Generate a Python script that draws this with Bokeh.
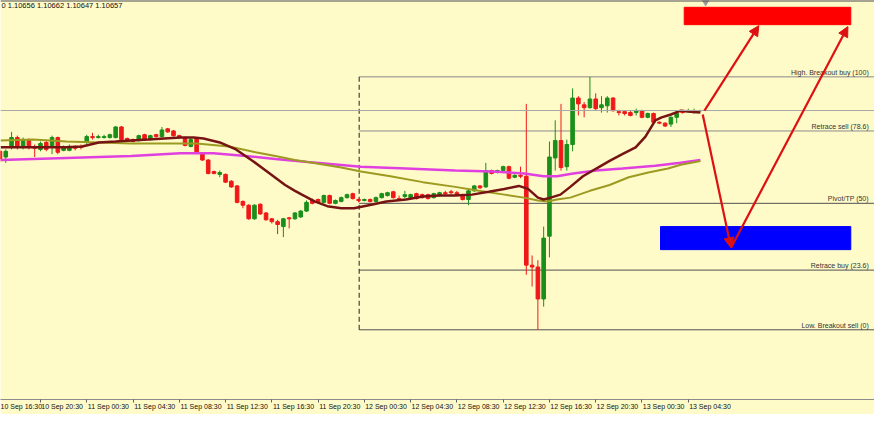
from bokeh.plotting import figure
from bokeh.models import (Range1d, FixedTicker, Span, Label, Arrow, NormalHead,
                          ColumnDataSource, LinearAxis)
from bokeh.core.properties import value
from bokeh.embed import file_html
from bokeh.resources import INLINE

# ---------------- data (EURUSD M30) ----------------
bar_index = list(range(1, 123))
open_ = [1.10399, 1.10363, 1.10424, 1.10486, 1.10424, 1.10467, 1.10424, 1.10411, 1.10455, 1.10424,
         1.10486, 1.10405, 1.10405, 1.10430, 1.10430, 1.10455, 1.10492, 1.10486, 1.10486, 1.10486,
         1.10486, 1.10553, 1.10480, 1.10473, 1.10467, 1.10504, 1.10473, 1.10504, 1.10492, 1.10541,
         1.10528, 1.10498, 1.10486, 1.10430, 1.10480, 1.10387, 1.10344, 1.10271, 1.10253, 1.10253,
         1.10210, 1.10180, 1.10082, 1.10058, 1.09972, 1.10064, 1.10009, 1.09972, 1.09954, 1.09923,
         1.09978, 1.09972, 1.09984, 1.10021, 1.10088, 1.10094, 1.10076, 1.10119, 1.10070, 1.10082,
         1.10106, 1.10131, 1.10094, 1.10088, 1.10094, 1.10082, 1.10106, 1.10119, 1.10143, 1.10100,
         1.10113, 1.10106, 1.10131, 1.10125, 1.10125, 1.10106, 1.10119, 1.10137, 1.10143, 1.10137,
         1.10125, 1.10094, 1.10149, 1.10180, 1.10174, 1.10277, 1.10265, 1.10277, 1.10302, 1.10235,
         1.10247, 1.10241, 1.09679, 1.09667, 1.09465, 1.09862, 1.10357, 1.10467, 1.10302, 1.10442,
         1.10736, 1.10693, 1.10675, 1.10730, 1.10675, 1.10687, 1.10736, 1.10650, 1.10650, 1.10644,
         1.10644, 1.10656, 1.10614, 1.10638, 1.10583, 1.10577, 1.10571, 1.10614, 1.10656, 1.10650,
         1.10644, 1.10656]
high = [1.10411, 1.10411, 1.10522, 1.10498, 1.10486, 1.10480, 1.10442, 1.10461, 1.10467, 1.10498,
        1.10492, 1.10436, 1.10442, 1.10436, 1.10442, 1.10504, 1.10516, 1.10504, 1.10504, 1.10510,
        1.10559, 1.10559, 1.10486, 1.10480, 1.10504, 1.10510, 1.10504, 1.10510, 1.10553, 1.10547,
        1.10534, 1.10504, 1.10492, 1.10486, 1.10486, 1.10393, 1.10350, 1.10277, 1.10277, 1.10259,
        1.10216, 1.10186, 1.10088, 1.10064, 1.10064, 1.10070, 1.10015, 1.09978, 1.09966, 1.09978,
        1.09984, 1.10015, 1.10027, 1.10088, 1.10100, 1.10100, 1.10125, 1.10125, 1.10094, 1.10113,
        1.10131, 1.10137, 1.10100, 1.10100, 1.10100, 1.10113, 1.10137, 1.10143, 1.10149, 1.10119,
        1.10149, 1.10131, 1.10137, 1.10131, 1.10131, 1.10137, 1.10143, 1.10149, 1.10155, 1.10149,
        1.10131, 1.10161, 1.10186, 1.10186, 1.10326, 1.10283, 1.10283, 1.10308, 1.10308, 1.10253,
        1.10302, 1.10699, 1.09740, 1.09710, 1.09923, 1.10461, 1.10595, 1.10699, 1.10473, 1.10797,
        1.10748, 1.10711, 1.10870, 1.10766, 1.10748, 1.10748, 1.10742, 1.10662, 1.10656, 1.10656,
        1.10669, 1.10662, 1.10644, 1.10644, 1.10589, 1.10583, 1.10620, 1.10650, 1.10662, 1.10669,
        1.10669, 1.10662]
low = [1.10332, 1.10326, 1.10411, 1.10411, 1.10411, 1.10411, 1.10363, 1.10399, 1.10399, 1.10381,
       1.10381, 1.10399, 1.10399, 1.10405, 1.10411, 1.10442, 1.10473, 1.10480, 1.10480, 1.10480,
       1.10480, 1.10467, 1.10461, 1.10455, 1.10461, 1.10467, 1.10467, 1.10486, 1.10486, 1.10516,
       1.10492, 1.10480, 1.10430, 1.10424, 1.10381, 1.10338, 1.10253, 1.10253, 1.10235, 1.10198,
       1.10168, 1.10070, 1.10039, 1.09966, 1.09966, 1.09997, 1.09960, 1.09942, 1.09875, 1.09856,
       1.09911, 1.09966, 1.09978, 1.10015, 1.10064, 1.10070, 1.10070, 1.10064, 1.10064, 1.10076,
       1.10100, 1.10094, 1.10076, 1.10082, 1.10076, 1.10076, 1.10100, 1.10113, 1.10100, 1.10088,
       1.10100, 1.10100, 1.10094, 1.10100, 1.10094, 1.10100, 1.10113, 1.10125, 1.10125, 1.10119,
       1.10088, 1.10058, 1.10143, 1.10161, 1.10168, 1.10253, 1.10259, 1.10271, 1.10222, 1.10229,
       1.10229, 1.09618, 1.09544, 1.09270, 1.09416, 1.09728, 1.10277, 1.10277, 1.10277, 1.10399,
       1.10626, 1.10614, 1.10669, 1.10656, 1.10644, 1.10644, 1.10650, 1.10626, 1.10626, 1.10620,
       1.10626, 1.10608, 1.10608, 1.10577, 1.10571, 1.10553, 1.10553, 1.10577, 1.10638, 1.10644,
       1.10638, 1.10647]
close = [1.10350, 1.10399, 1.10486, 1.10424, 1.10473, 1.10424, 1.10418, 1.10448, 1.10411, 1.10486,
         1.10393, 1.10424, 1.10430, 1.10418, 1.10424, 1.10492, 1.10486, 1.10492, 1.10492, 1.10504,
         1.10553, 1.10473, 1.10467, 1.10461, 1.10498, 1.10473, 1.10498, 1.10492, 1.10534, 1.10522,
         1.10498, 1.10486, 1.10436, 1.10473, 1.10387, 1.10344, 1.10259, 1.10259, 1.10265, 1.10204,
         1.10174, 1.10076, 1.10058, 1.09972, 1.10058, 1.10003, 1.09966, 1.09954, 1.09936, 1.09972,
         1.09972, 1.10009, 1.10021, 1.10076, 1.10070, 1.10076, 1.10119, 1.10070, 1.10088, 1.10106,
         1.10125, 1.10100, 1.10088, 1.10094, 1.10082, 1.10106, 1.10131, 1.10137, 1.10106, 1.10094,
         1.10125, 1.10125, 1.10100, 1.10106, 1.10100, 1.10131, 1.10137, 1.10131, 1.10137, 1.10125,
         1.10094, 1.10149, 1.10180, 1.10168, 1.10277, 1.10259, 1.10277, 1.10302, 1.10229, 1.10247,
         1.10241, 1.09679, 1.09667, 1.09465, 1.09850, 1.10363, 1.10467, 1.10296, 1.10442, 1.10736,
         1.10699, 1.10675, 1.10730, 1.10669, 1.10693, 1.10736, 1.10656, 1.10644, 1.10638, 1.10626,
         1.10656, 1.10614, 1.10638, 1.10583, 1.10577, 1.10559, 1.10614, 1.10638, 1.10644, 1.10656,
         1.10656, 1.10657]

# moving averages (sampled along each line)
ma_fast_x = [1.1, 6.7, 12.5, 15.2, 18.1, 21.0, 23.7, 26.6, 29.4, 32.2, 34.5, 36.2, 39.0, 41.8, 44.7,
             47.4, 50.3, 52.0, 53.2, 55.4, 57.6, 60.0, 62.2, 63.9, 65.6, 67.8, 71.2, 74.1, 77.0, 79.7,
             82.6, 85.5, 88.2, 90.7, 92.3, 94.0, 95.0, 96.2, 97.9, 99.6, 101.8, 104.1, 106.4, 108.6,
             110.9, 112.6, 114.3, 115.4, 117.0, 118.7, 120.4, 122.1]
ma_fast_y = [1.10424, 1.10424, 1.10424, 1.10430, 1.10455, 1.10461, 1.10467, 1.10473, 1.10480, 1.10486,
             1.10486, 1.10480, 1.10455, 1.10411, 1.10338, 1.10265, 1.10186, 1.10149, 1.10125, 1.10082,
             1.10052, 1.10039, 1.10039, 1.10052, 1.10064, 1.10082, 1.10094, 1.10113, 1.10119, 1.10119,
             1.10125, 1.10143, 1.10161, 1.10180, 1.10161, 1.10106, 1.10094, 1.10106, 1.10125, 1.10174,
             1.10241, 1.10290, 1.10338, 1.10381, 1.10424, 1.10492, 1.10595, 1.10614, 1.10632, 1.10656,
             1.10650, 1.10644]
ma_mid_x = [1.1, 6.7, 12.5, 18.1, 23.7, 29.4, 35.0, 40.6, 45.2, 48.6, 52.0, 54.2, 60.0, 63.4, 68.5,
            74.1, 79.7, 83.8, 88.2, 91.6, 94.0, 95.7, 97.3, 99.6, 103.0, 106.4, 109.7, 113.1, 116.5,
            118.7, 122.1]
ma_mid_y = [1.10467, 1.10473, 1.10461, 1.10455, 1.10449, 1.10449, 1.10449, 1.10430, 1.10393, 1.10369,
            1.10344, 1.10332, 1.10296, 1.10271, 1.10241, 1.10204, 1.10174, 1.10149, 1.10125, 1.10106,
            1.10088, 1.10082, 1.10094, 1.10106, 1.10149, 1.10186, 1.10235, 1.10265, 1.10290, 1.10314,
            1.10338]
ma_slow_x = [1.1, 12.5, 23.7, 32.2, 37.9, 43.5, 48.6, 54.2, 63.4, 71.2, 79.7, 86.0, 91.6, 95.0, 97.3,
             100.1, 104.1, 108.6, 114.3, 118.7, 122.1]
ma_slow_y = [1.10344, 1.10357, 1.10369, 1.10387, 1.10387, 1.10369, 1.10351, 1.10332, 1.10302, 1.10290,
             1.10277, 1.10271, 1.10259, 1.10241, 1.10241, 1.10259, 1.10277, 1.10290, 1.10308, 1.10326,
             1.10344]

# Fibonacci grid
fib_high = 1.1087
fib_low = 1.0927
fib_start = 63.1
fib_ratios = [100, 78.6, 50, 23.6, 0]
fib_names = ["High. Breakout buy (100)", "Retrace sell (78.6)", "Pivot/TP (50)",
             "Retrace buy (23.6)", "Low. Breakout sell (0)"]
fib_colors = ["#8a8a8a", "#8a8a8a", "#505050", "#505050", "#505050"]

# target zones and projected path
zone_left = [119.3, 115.2]
zone_right = [148.1, 148.1]
zone_top = [1.11310, 1.09923]
zone_bottom = [1.11200, 1.09777]
zone_colors = ["#ff0000", "#0000ff"]
arrow_x0 = [122.8, 122.5, 127.4]
arrow_y0 = [1.10656, 1.10632, 1.09789]
arrow_x1 = [132.2, 127.4, 147.6]
arrow_y1 = [1.11194, 1.09789, 1.11188]

# x axis
tick_index = [0, 8, 16, 24, 32, 40, 48, 56, 64, 72, 80, 88, 96, 104, 112, 120]
tick_labels = ["10 Sep 16:30", "10 Sep 20:30", "11 Sep 00:30", "11 Sep 04:30", "11 Sep 08:30",
               "11 Sep 12:30", "11 Sep 16:30", "11 Sep 20:30", "12 Sep 00:30", "12 Sep 04:30",
               "12 Sep 08:30", "12 Sep 12:30", "12 Sep 16:30", "12 Sep 20:30", "13 Sep 00:30",
               "13 Sep 04:30"]
header_text = "0  1.10656 1.10662 1.10647 1.10657"
last_price = 1.10657

# ---------------- figure ----------------
BG = "#FFFBC8"
FONT = "Liberation Sans"
GREEN = "#1a8f1a"
RED = "#f01818"
Y0, Y1 = 1.08829, 1.11353
LABEL_SHIFT = 3.75   # labels start at their tick (terminal style) instead of being centred

p = figure(width=874, height=414, output_backend="svg", toolbar_location=None,
           x_range=Range1d(1.09, 152.2), y_range=Range1d(Y0, Y1),
           y_axis_location=None, min_border=0, min_border_bottom=15)
p.background_fill_color = BG
p.border_fill_color = BG
p.outline_line_color = None
p.grid.visible = False

# axis line + tick marks (no labels of its own)
ax = p.xaxis[0]
ax.ticker = FixedTicker(ticks=tick_index)
ax.major_label_overrides = {t: "" for t in tick_index}
ax.axis_line_color = "#8c8c8c"
ax.major_tick_line_color = "#606060"
ax.major_tick_in = 0
ax.major_tick_out = 3
ax.minor_tick_line_color = None
ax.major_label_text_color = None
ax.major_label_standoff = 0

# tick labels (placed so each one begins at its tick)
label_ticks = [t + LABEL_SHIFT for t in tick_index]
lab_axis = LinearAxis(ticker=FixedTicker(ticks=label_ticks),
                      major_label_overrides={lt: s for lt, s in zip(label_ticks, tick_labels)},
                      axis_line_color=None, major_tick_line_color=None,
                      major_tick_in=0, major_tick_out=0,
                      minor_tick_line_color=None, minor_tick_in=0, minor_tick_out=0,
                      major_label_standoff=0,
                      major_label_text_font=FONT, major_label_text_font_size="7px",
                      major_label_text_color="#111111")
p.add_layout(lab_axis, "below")

# top border and current price line
p.add_layout(Span(location=Y1, dimension="width", line_color="#4a4a4a", line_width=2))
p.add_layout(Span(location=last_price, dimension="width", line_color="#a8a8a8", line_width=1))

# Fibonacci lines
fib_prices = [fib_low + (fib_high - fib_low) * r / 100.0 for r in fib_ratios]
p.segment(x0=[fib_start] * 5, x1=[160] * 5, y0=fib_prices, y1=fib_prices,
          line_color=fib_colors, line_width=1)
p.segment(x0=[fib_start], x1=[fib_start], y0=[fib_low], y1=[fib_high],
          line_color="#202020", line_width=1, line_dash="5 3")
p.text(x=[151.2] * 5, y=fib_prices, text=fib_names, text_font=value(FONT),
       text_font_size="7px", text_color="#333333", text_align="right",
       text_baseline="bottom", y_offset=-1)

# candles
colors = [GREEN if c >= o else RED for o, c in zip(open_, close)]
src = ColumnDataSource(dict(x=bar_index, o=open_, h=high, l=low, c=close, col=colors,
                            top=[max(o, c) for o, c in zip(open_, close)],
                            bot=[min(o, c) for o, c in zip(open_, close)]))
p.segment(x0="x", x1="x", y0="h", y1="l", line_color="col", line_width=1, source=src)
p.vbar(x="x", width=0.62, top="top", bottom="bot", fill_color="col", line_color="col",
       line_width=1, source=src)

# moving averages
p.line(ma_slow_x, ma_slow_y, line_color="#e040e0", line_width=2.5)
p.line(ma_mid_x, ma_mid_y, line_color="#9c9a20", line_width=2)
p.line(ma_fast_x, ma_fast_y, line_color="#761414", line_width=2.5)

# zones
p.quad(left=zone_left, right=zone_right, top=zone_top, bottom=zone_bottom,
       fill_color=zone_colors, line_color=zone_colors)

# arrows
for x0, y0, x1, y1 in zip(arrow_x0, arrow_y0, arrow_x1, arrow_y1):
    p.add_layout(Arrow(end=NormalHead(size=10, fill_color="#dd1111", line_color="#dd1111"),
                       x_start=x0, y_start=y0, x_end=x1, y_end=y1,
                       line_color="#dd1111", line_width=2.2))

# chart shift marker at the top
p.scatter([123.0], [1.11345], marker="inverted_triangle", size=7,
          fill_color="#9a9a9a", line_color="#9a9a9a")

# header
p.add_layout(Label(x=1, y=1.11322, x_units="screen", y_units="data", text=header_text,
                   text_font=FONT, text_font_size="7.5px", text_color="#111111",
                   text_baseline="middle"))

open("out.html", "w").write(file_html(p, INLINE))
